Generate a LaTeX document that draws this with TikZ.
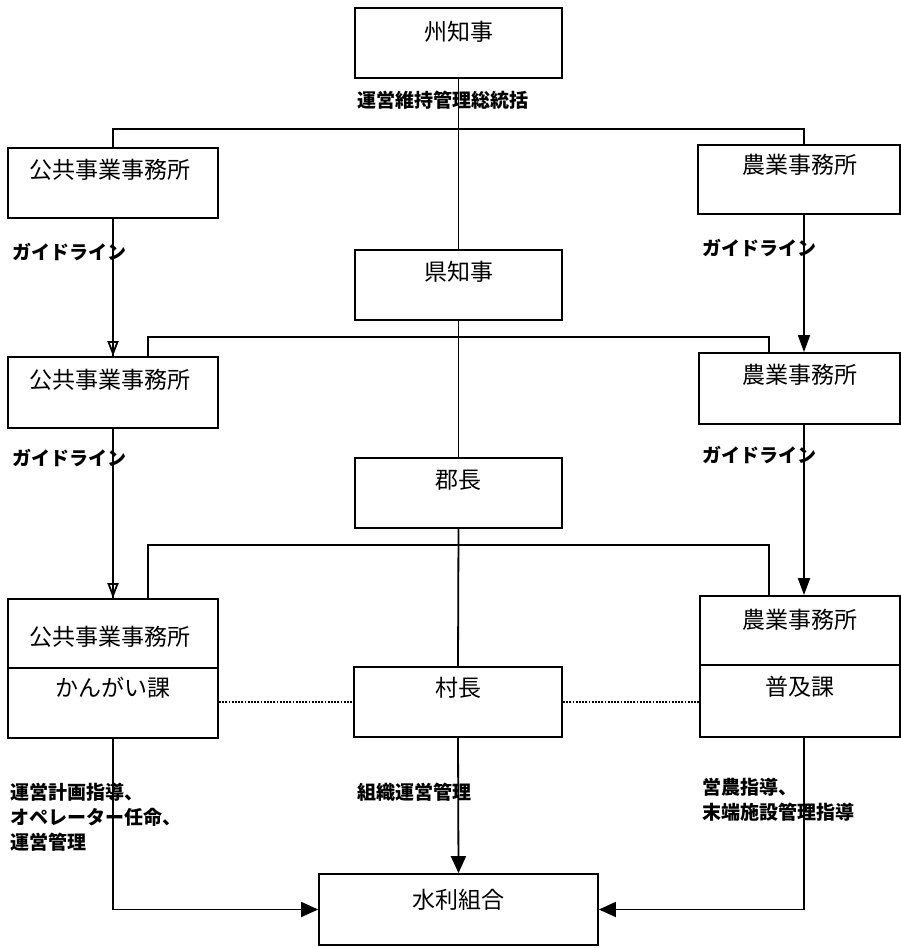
\documentclass[tikz,border=0pt]{standalone}
\usepackage{fontspec}
\newfontfamily\jp{Noto Sans CJK JP}
\usetikzlibrary{arrows.meta}
\tikzset{
  boxshape/.style={draw, line width=1.8pt, inner sep=0pt, rectangle},
  btxt/.style={font=\jp\fontsize{23}{27}\selectfont, inner sep=0pt, anchor=base},
  lbl/.style={font=\jp\bfseries\fontsize{19}{25}\selectfont, inner sep=0pt},
  conn/.style={line width=1.8pt},
  fillarr/.style={conn, -{Triangle[length=17pt,width=12pt]}},
  bigarr/.style={conn, -{Triangle[length=17pt,width=15pt]}},
  openarr/.style={conn, -{Triangle[open,length=15pt,width=11pt]}},
  dotline/.style={line width=1.4pt, dash pattern=on 1.8pt off 1.4pt},
}
\begin{document}
\begin{tikzpicture}[x=1pt,y=-1pt]
\fill[white] (0,0) rectangle (900,948);
\useasboundingbox (0,0) rectangle (900,948);

% boxes
\node[boxshape, minimum width=207pt, minimum height=70pt] (gov) at (458.5,43) {};
\node[boxshape, minimum width=210pt, minimum height=70pt] (pw1) at (113,183) {};
\node[boxshape, minimum width=202pt, minimum height=69pt] (ag1) at (799,179.5) {};
\node[boxshape, minimum width=207pt, minimum height=70pt] (pref) at (458.5,285) {};
\node[boxshape, minimum width=210pt, minimum height=71pt] (pw2) at (113,392.5) {};
\node[boxshape, minimum width=201pt, minimum height=71pt] (ag2) at (799.5,388.5) {};
\node[boxshape, minimum width=207pt, minimum height=70pt] (dist) at (458.5,493) {};
\node[boxshape, minimum width=210pt, minimum height=139pt] (pw3) at (113,668.5) {};
\node[boxshape, minimum width=200pt, minimum height=141pt] (ag3) at (800,666.5) {};
\node[boxshape, minimum width=208pt, minimum height=70pt] (vill) at (458,702) {};
\node[boxshape, minimum width=279pt, minimum height=71pt] (wua) at (458.5,909.5) {};

% dividers
\draw[line width=1.8pt] (8,668) -- (218,668);
\draw[line width=1.8pt] (700,665) -- (900,665);

% box texts
\node[btxt] (tgov) at (458.5,40.7) {州知事};
\node[btxt] (tpw1) at (110,178.7) {公共事業事務所};
\node[btxt] (tag1) at (800,173.7) {農業事務所};
\node[btxt] (tpref) at (458.5,280.7) {県知事};
\node[btxt] (tpw2) at (110,388.7) {公共事業事務所};
\node[btxt] (tag2) at (800,383.7) {農業事務所};
\node[btxt] (tdist) at (458.5,488.7) {郡長};
\node[btxt] (tpw3a) at (110,645.7) {公共事業事務所};
\node[btxt] (tpw3b) at (113,696.7) {かんがい課};
\node[btxt] (tag3a) at (800,628.7) {農業事務所};
\node[btxt] (tag3b) at (800,695.7) {普及課};
\node[btxt] (tvill) at (458,696.7) {村長};
\node[btxt] (twua) at (458.5,908.7) {水利組合};

% central chain
\draw[conn] (gov.south) -- (pref.north);
\draw[conn] (pref.south) -- (dist.north);
\draw[conn] (dist.south) -- (vill.north);
\draw[bigarr] (vill.south) -- (wua.north);

% bus lines
\coordinate (rx) at (804,0);
\coordinate (b1l) at (113,129);
\coordinate (b1r) at (804,129);
\draw[conn] (pw1.north) -- (b1l) -- (b1r) -- (b1r |- ag1.north);

\coordinate (b2l) at (148,337);
\coordinate (b2r) at (769,337);
\draw[conn] (b2l |- pw2.north) -- (b2l) -- (b2r) -- (b2r |- ag2.north);

\coordinate (b3l) at (148,545);
\coordinate (b3r) at (769,545);
\draw[conn] (b3l |- pw3.north) -- (b3l) -- (b3r) -- (b3r |- ag3.north);

% guideline arrows
\draw[conn] (pw1.south) -- (pw2.north);
\draw[openarr] (pw1.south) -- (pw2.north);
\draw[fillarr] (rx |- ag1.south) -- (rx |- ag2.north);
\draw[conn] (pw2.south) -- (pw3.north);
\draw[openarr] (pw2.south) -- (pw3.north);
\draw[fillarr] (rx |- ag2.south) -- (rx |- ag3.north);

% to water users association
\draw[bigarr] (pw3.south) |- (wua.west);
\draw[bigarr] (rx |- ag3.south) |- (wua.east);

% dotted links
\draw[dotline] (pw3.east |- vill.west) -- (vill.west);
\draw[dotline] (vill.east) -- (ag3.west |- vill.east);

% labels
\node[lbl, anchor=base west] (l0) at (357,107.2) {運営維持管理総統括};
\node[lbl, anchor=base west] (g1) at (12,259.2) {ガイドライン};
\node[lbl, anchor=base west] (g2) at (702,255.2) {ガイドライン};
\node[lbl, anchor=base west] (g3) at (12,465.2) {ガイドライン};
\node[lbl, anchor=base west] (g4) at (702,462.2) {ガイドライン};
\node[lbl, anchor=north west, align=left] (l1) at (10,782.5) {運営計画指導、\\オペレーター任命、\\運営管理};
\node[lbl, anchor=base west] (l2) at (357,799.2) {組織運営管理};
\node[lbl, anchor=north west, align=left] (l3) at (702,777.5) {営農指導、\\末端施設管理指導};
\end{tikzpicture}
\end{document}
